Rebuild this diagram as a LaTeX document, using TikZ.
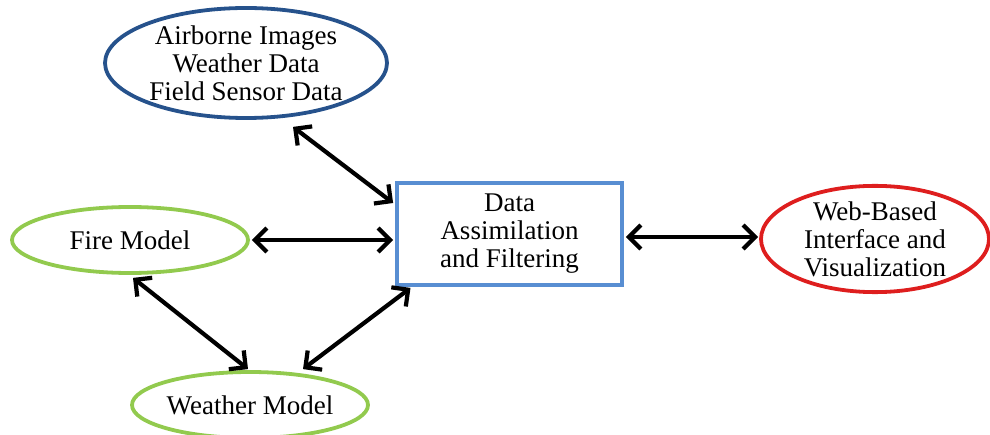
\documentclass[tikz,border=0pt]{standalone}
\usepackage{fontspec}
\setmainfont{Liberation Serif}
\usetikzlibrary{shapes.geometric,arrows.meta}
\definecolor{srcblue}{RGB}{38,82,140}
\definecolor{boxblue}{RGB}{88,142,210}
\definecolor{modgreen}{RGB}{146,202,78}
\definecolor{webred}{RGB}{222,30,30}
\tikzset{
  lbl/.style={font=\fontsize{27}{28}\selectfont, align=center, text=black, inner sep=0pt},
  oval/.style={ellipse, lbl, line width=3.8pt},
  procbox/.style={rectangle, lbl, line width=3.8pt},
  barb/.tip={Straight Barb[length=12pt,width=24pt]},
  link/.style={line width=4.2pt, black, barb-barb}
}
\begin{document}
\begin{tikzpicture}[x=1pt,y=1pt]
  \useasboundingbox (0,0) rectangle (990,434);

  % data sources, models, processing and output
  \node[oval, draw=srcblue, minimum width=282pt, minimum height=110pt] (src) at (246,371)
    {Airborne Images\\Weather Data\\Field Sensor Data};
  \node[oval, draw=modgreen, minimum width=236pt, minimum height=66pt] (fire) at (130,194) {Fire Model};
  \node[oval, draw=modgreen, minimum width=236pt, minimum height=66pt] (wx) at (250,29) {Weather Model};
  \node[procbox, draw=boxblue, minimum width=225pt, minimum height=102pt] (da) at (509.5,200)
    {Data\\Assimilation\\and Filtering};
  \node[oval, draw=webred, minimum width=228pt, minimum height=106pt] (web) at (875,195)
    {Web-Based\\Interface and\\Visualization};

  % two-way data links
  \draw[link] ([xshift=47pt,yshift=-7pt]src.south) -- ([xshift=-2pt,yshift=31pt]da.west);
  \draw[link] ([xshift=2pt]fire.east) -- ([xshift=-2pt,yshift=-6pt]da.west);
  \draw[link] ([xshift=3pt,yshift=-3pt]fire.south) -- ([xshift=-2pt,yshift=1pt]wx.north);
  \draw[link] ([xshift=53pt,yshift=1pt]wx.north) -- ([xshift=-99pt,yshift=-1pt]da.south);
  \draw[link] ([xshift=2pt,yshift=-3pt]da.east) -- ([xshift=-1pt,yshift=2pt]web.west);
\end{tikzpicture}
\end{document}
